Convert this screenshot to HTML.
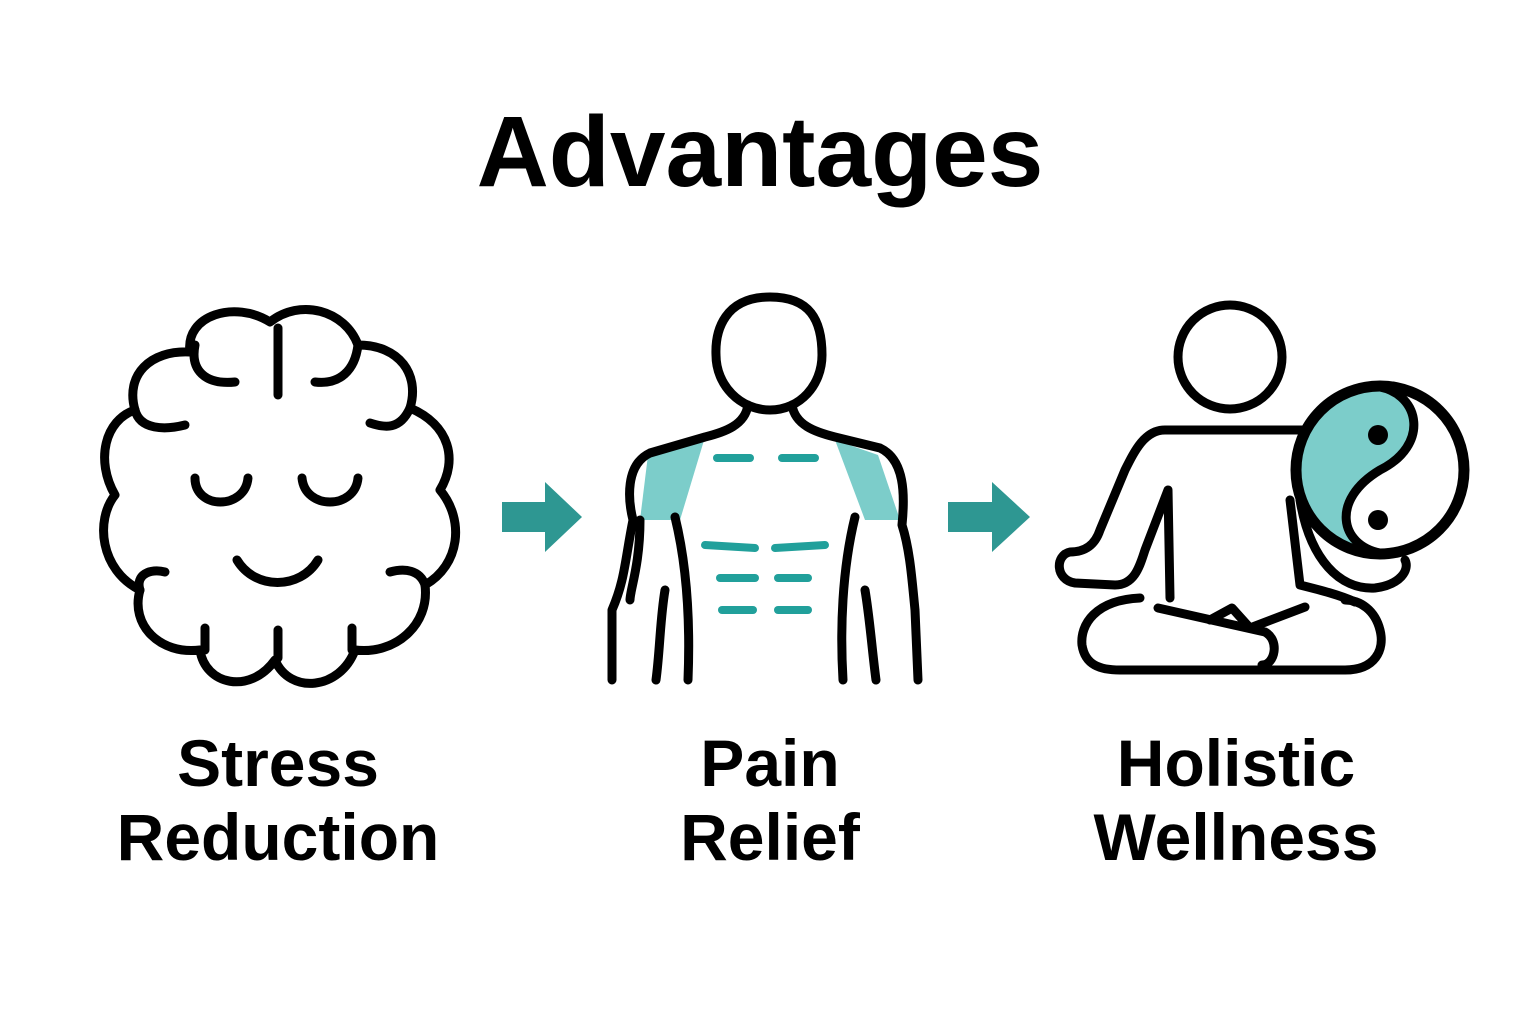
<!DOCTYPE html>
<html><head><meta charset="utf-8"><style>
html,body{margin:0;padding:0;background:#fff;}
body{width:1536px;height:1024px;overflow:hidden;position:relative;font-family:"Liberation Sans",sans-serif;}
.t{position:absolute;font-weight:bold;color:#000;text-align:center;}
</style></head><body>
<svg width="1536" height="1024" style="position:absolute;left:0;top:0" fill="none" stroke="#000" stroke-width="9" stroke-linecap="round" stroke-linejoin="round">
<!-- Brain -->
<path d="M190,352 C185,315 235,300 270,322 C300,298 345,310 358,345 C400,345 420,375 410,408 C450,425 458,460 440,490 C465,520 460,565 425,585 C430,625 395,655 355,650 C340,690 290,695 275,660 C250,695 205,685 200,650 C160,655 130,625 140,590 C100,570 95,520 115,495 C95,460 105,420 135,410 C125,375 150,350 190,352 Z"/>
<path d="M278,328 L278,395"/>
<path d="M195,345 C190,370 205,385 235,382"/>
<path d="M358,345 C355,370 340,385 315,382"/>
<path d="M135,410 C140,430 165,430 185,425"/>
<path d="M410,408 C400,430 385,428 370,423"/>
<path d="M140,590 C135,575 150,568 165,572"/>
<path d="M425,585 C420,570 405,568 390,572"/>
<path d="M205,628 L205,650"/><path d="M278,630 L278,658"/><path d="M352,628 L352,650"/>
<path d="M195,478 C195,510 245,510 248,478"/>
<path d="M302,478 C305,510 355,510 358,478"/>
<path d="M237,560 C255,590 300,590 318,560"/>
<!-- arrows -->
<path d="M502,502 L545,502 L545,482 L582,517 L545,552 L545,532 L502,532 Z" fill="#2e9792" stroke="none"/>
<path d="M948,502 L992,502 L992,482 L1030,517 L992,552 L992,532 L948,532 Z" fill="#2e9792" stroke="none"/>
<!-- Body -->
<path d="M648,455 L705,437 L680,520 L640,520 Z" fill="#7ccdca" stroke="none"/>
<path d="M835,440 L878,455 L900,520 L865,520 Z" fill="#7ccdca" stroke="none"/>
<path d="M770,297 C725,297 715,330 716,355 C716,385 740,410 770,410 C800,410 822,385 822,355 C822,320 810,297 770,297 Z"/>
<path d="M748,405 C745,425 725,432 705,437 L650,453 C625,465 628,500 633,520 C625,560 625,580 612,610 L612,680"/>
<path d="M792,405 C795,425 815,432 835,437 L880,448 C905,460 905,495 902,525 C910,550 912,580 915,610 L918,680"/>
<path d="M675,517 C688,570 690,630 688,680"/>
<path d="M855,517 C842,570 840,630 843,680"/>
<path d="M640,520 C640,565 630,590 630,600"/>
<path d="M665,590 C660,620 660,650 656,680"/>
<path d="M865,590 C870,620 872,650 876,680"/>
<g stroke="#21a09b" stroke-width="8">
<path d="M717,458 L750,458"/><path d="M782,458 L815,458"/>
<path d="M705,545 L755,548"/><path d="M775,548 L825,545"/>
<path d="M720,578 L755,578"/><path d="M778,578 L808,578"/>
<path d="M722,610 L753,610"/><path d="M778,610 L808,610"/>
</g>
<!-- Meditation -->
<circle cx="1230" cy="357" r="52"/>
<path d="M1305,430 L1165,430 C1145,430 1135,450 1125,470 L1100,530 C1095,545 1085,552 1070,552 C1055,555 1055,580 1075,583 L1115,585 C1135,585 1140,565 1145,550 L1168,490 L1170,598"/>
<path d="M1290,500 L1300,585 C1320,590 1340,595 1355,602"/>
<path d="M1140,598 C1095,600 1080,625 1082,645 C1085,665 1100,670 1120,670 L1345,670 C1375,670 1385,650 1380,630 C1375,610 1360,600 1345,600"/>
<path d="M1158,608 L1265,632 C1280,640 1275,665 1262,665"/>
<path d="M1305,607 L1250,628 L1232,608 L1210,620"/>
<circle cx="1380" cy="470" r="85" fill="#fff"/>
<path d="M1380,387 C1330,390 1300,420 1300,470 C1305,520 1340,555 1380,553 C1340,545 1330,500 1380,470 C1430,445 1420,395 1380,387 Z" fill="#7ccdca" stroke="none"/>
<path d="M1380,387 C1420,395 1430,445 1380,470 C1330,500 1340,545 1380,553"/>
<circle cx="1380" cy="470" r="83"/>
<path d="M1300,500 C1310,560 1340,590 1375,588 C1400,585 1410,570 1405,560"/>
<circle cx="1378" cy="435" r="10" fill="#000" stroke="none"/>
<circle cx="1378" cy="520" r="10" fill="#000" stroke="none"/>
</svg>
<div class="t" style="left:460px;top:92px;width:600px;font-size:100px;line-height:120px;">Advantages</div>
<div class="t" style="left:78px;top:726px;width:400px;font-size:66px;line-height:74px;">Stress<br>Reduction</div>
<div class="t" style="left:570px;top:726px;width:400px;font-size:66px;line-height:74px;">Pain<br>Relief</div>
<div class="t" style="left:1036px;top:726px;width:400px;font-size:66px;line-height:74px;">Holistic<br>Wellness</div>
</body></html>
